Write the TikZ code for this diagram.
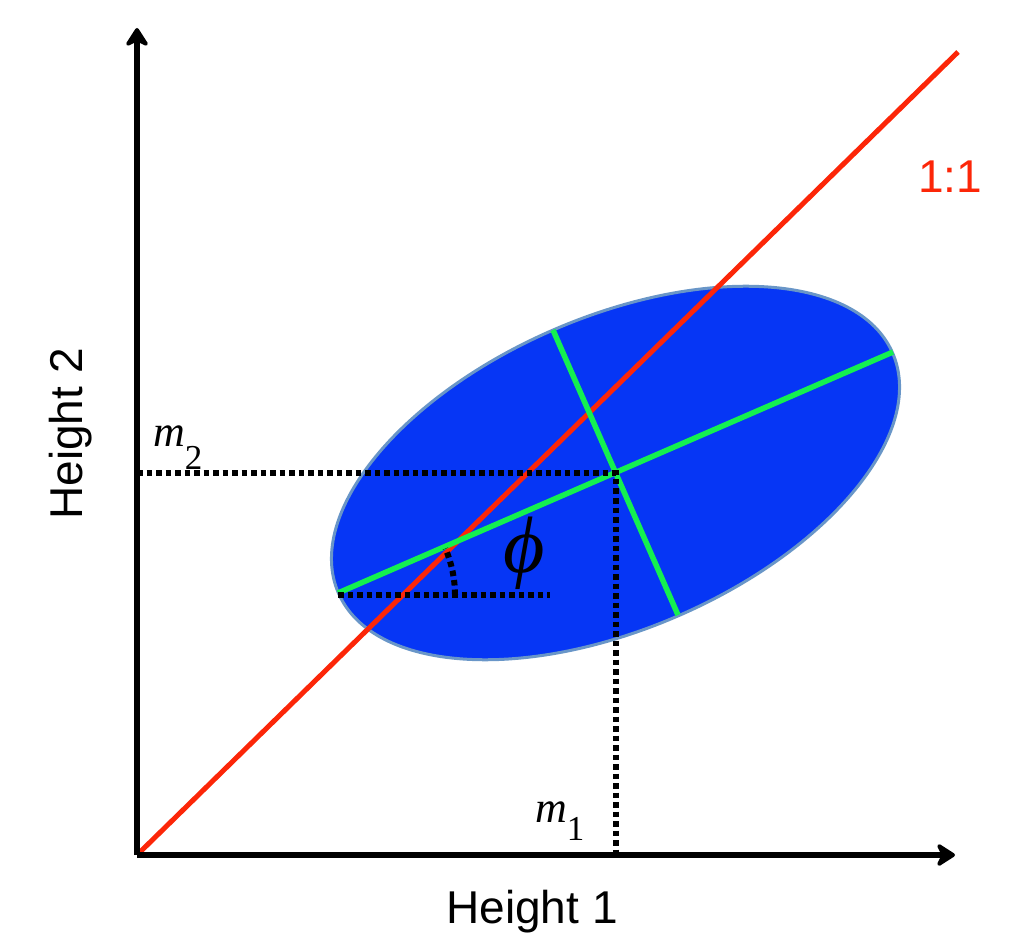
\documentclass[tikz,border=0pt]{standalone}
\usepackage{fontspec}
\setmainfont{Liberation Sans}
\newfontfamily\serifm{Liberation Serif}
\usetikzlibrary{arrows.meta}
\definecolor{ellfill}{RGB}{6,54,245}
\definecolor{ellline}{RGB}{105,150,200}
\definecolor{redline}{RGB}{252,38,8}
\definecolor{greenline}{RGB}{20,240,80}
\tikzset{
  axisline/.style={line width=6pt, -{Stealth[length=22pt,width=28pt,inset=7pt,round]}},
  oneone/.style={redline, line width=5pt},
  axline/.style={greenline, line width=5.5pt},
  dotline/.style={black, line width=6pt, dash pattern=on 5.5pt off 4pt},
  sanslabel/.style={font=\fontsize{46}{52}\selectfont, inner sep=0pt},
  mlabel/.style={font=\serifm\fontsize{44}{50}\selectfont, inner sep=0pt, anchor=base west},
}
\begin{document}
\begin{tikzpicture}[x=1pt,y=1pt]
\useasboundingbox (0,0) rectangle (1024,946);
% coordinates
\coordinate (O) at (137,91);
\coordinate (Ytip) at (137,918);
\coordinate (Xtip) at (955,91);
\coordinate (Rend) at (958,894);
\coordinate (C) at (615.5,473);
\coordinate (MajA) at (338,353);
\coordinate (MajB) at (893,594);
\coordinate (MinA) at (553,616);
\coordinate (MinB) at (678,331);
\coordinate (M2L) at (137,473);
\coordinate (M1B) at (615.5,91);
\coordinate (D1) at (338,351);
\coordinate (D2) at (550,351);
% ellipse
\draw[fill=ellfill, draw=ellline, line width=3pt, shift={(C)}, rotate=23.4]
  (0,0) ellipse [x radius=302pt, y radius=156pt];
% 1:1 line
\draw[oneone] (O) -- (Rend);
% principal axes
\draw[axline] (MajA) -- (MajB);
\draw[axline] (MinA) -- (MinB);
% dotted guides
\draw[dotline] (M2L) -- (C) -- (M1B);
\draw[dotline] (D1) -- (D2);
\draw[dotline] (MajA) ++(117pt,-2pt) arc[start angle=0, end angle=23.4, radius=117pt];
% axes
\draw[axisline] (O) -- (Ytip);
\draw[axisline] (O) -- (Xtip);
% labels
\node[sanslabel, anchor=base] (h1) at (532,23) {Height 1};
\node[sanslabel, anchor=base, rotate=90] (h2) at (82,512) {Height 2};
\node[sanslabel, anchor=base, text=redline] (r1) at (950,753) {1:1};
\node[mlabel] (m2) at (153,499) {\itshape m\raisebox{-22pt}{\upshape\fontsize{35}{40}\selectfont 2}};
\node[mlabel] (m1) at (535,124) {\itshape m\raisebox{-18pt}{\upshape\fontsize{35}{40}\selectfont 1}};
\node[inner sep=0pt, font=\serifm\itshape\fontsize{80}{90}\selectfont] (phi) at (524,393) {ϕ};
\end{tikzpicture}
\end{document}
